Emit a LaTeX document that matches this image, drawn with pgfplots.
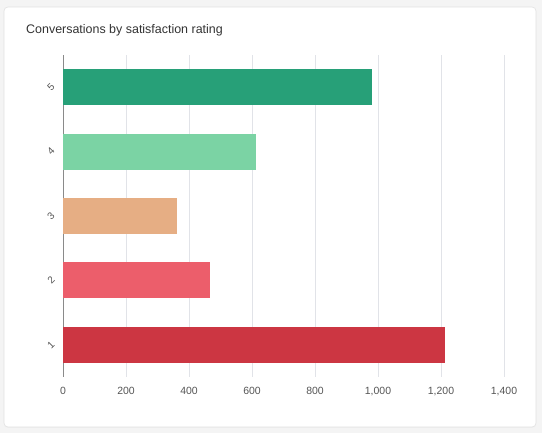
\documentclass[border=0pt]{standalone}
\usepackage{fontspec}
\setmainfont{Liberation Sans}
\usepackage{pgfplots}
\pgfplotsset{compat=1.18}
\definecolor{bgout}{HTML}{F4F4F4}
\definecolor{cardedge}{HTML}{E2E2E2}
\definecolor{gridc}{HTML}{E1E3E8}
\definecolor{axisc}{HTML}{8A8A8A}
\definecolor{labelc}{HTML}{555555}
\definecolor{titlec}{HTML}{333333}
\definecolor{c5}{HTML}{27A078}
\definecolor{c4}{HTML}{7BD3A4}
\definecolor{c3}{HTML}{E6AE84}
\definecolor{c2}{HTML}{EC5E6B}
\definecolor{c1}{HTML}{CC3642}
\begin{document}
\begin{tikzpicture}[x=1bp,y=1bp]
\useasboundingbox (0,0) rectangle (542,433);
\fill[bgout] (0,0) rectangle (542,433);
\fill[black!6,rounded corners=4bp] (4,5) rectangle (536,426);
\filldraw[fill=white,draw=cardedge,line width=0.6bp,rounded corners=4bp] (4,6) rectangle (536,426);
\node[anchor=base west,font=\fontsize{12.5}{14}\selectfont,text=titlec,inner sep=0] at (26,399) {Conversations by satisfaction rating};
\begin{axis}[
  at={(63bp,56bp)}, anchor=south west,
  scale only axis, width=441bp, height=322bp,
  xmin=0, xmax=1400, ymin=0.5, ymax=5.5,
  xtick={0,200,...,1400}, ytick={1,2,3,4,5},
  axis y line=left, axis x line=bottom,
  x axis line style={draw=none,-},
  y axis line style={axisc,line width=0.8bp,-},
  major tick length=0pt,
  xmajorgrids, grid style={gridc,line width=0.6bp},
  /pgf/number format/.cd, 1000 sep={,}, assume math mode=true,
  /pgfplots/.cd,
  xticklabel style={font=\fontsize{10.5}{12}\selectfont,text=labelc,yshift=-7bp},
  yticklabel style={font=\fontsize{10}{12}\selectfont,text=labelc,anchor=center,xshift=-12bp,rotate=45},
  clip=false,
]
\addplot[xbar,bar width=36bp,bar shift=0pt,fill=c5,draw=none] coordinates {(980,5)};
\addplot[xbar,bar width=36bp,bar shift=0pt,fill=c4,draw=none] coordinates {(612,4)};
\addplot[xbar,bar width=36bp,bar shift=0pt,fill=c3,draw=none] coordinates {(362,3)};
\addplot[xbar,bar width=36bp,bar shift=0pt,fill=c2,draw=none] coordinates {(466,2)};
\addplot[xbar,bar width=36bp,bar shift=0pt,fill=c1,draw=none] coordinates {(1213,1)};
\end{axis}
\end{tikzpicture}
\end{document}
